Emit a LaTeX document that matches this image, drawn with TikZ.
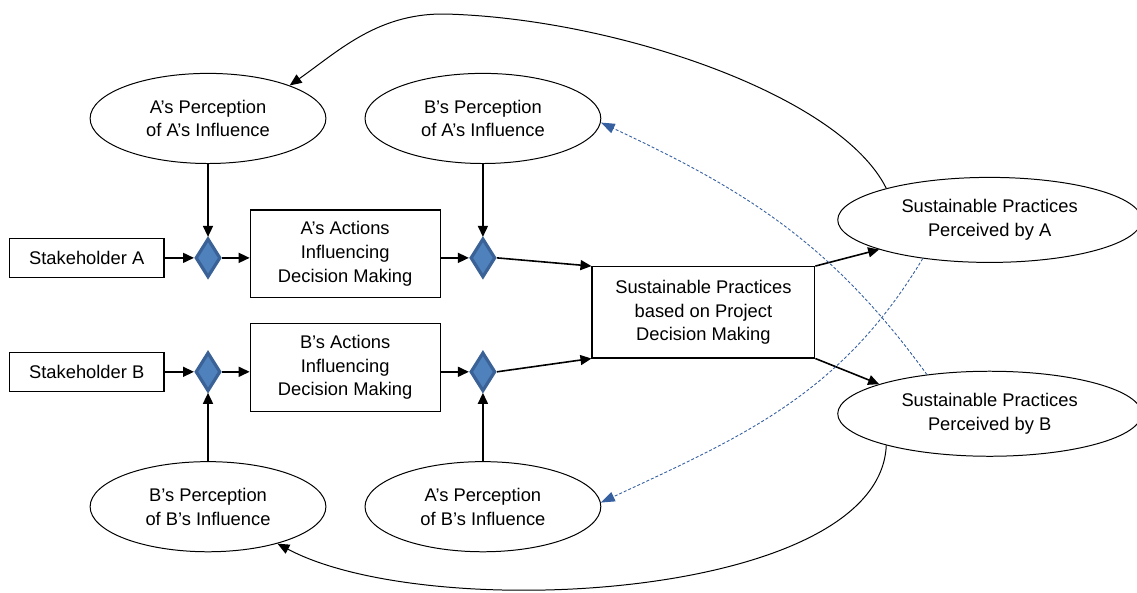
\documentclass[tikz,border=0pt]{standalone}
\usepackage{fontspec}
\setmainfont{Liberation Sans}
\usetikzlibrary{shapes.geometric,arrows.meta}

\definecolor{gatefill}{RGB}{79,129,189}
\definecolor{gateline}{RGB}{58,98,150}
\definecolor{crossblue}{RGB}{54,96,160}

\begin{document}
\begin{tikzpicture}[
	every node/.style={font=\fontsize{9.2}{12}\selectfont, align=center, inner sep=0pt},
	actor/.style={draw, line width=0.6pt, minimum width=2.73cm, minimum height=0.69cm},
	action/.style={draw, line width=0.6pt, minimum width=3.35cm, minimum height=1.55cm},
	outcome/.style={draw, line width=0.6pt, minimum width=3.93cm, minimum height=1.61cm},
	gate/.style={diamond, draw=gateline, fill=gatefill, line width=1.6pt, minimum width=12.5pt, minimum height=19.5pt},
	view/.style={ellipse, draw, line width=0.5pt, minimum width=4.16cm, minimum height=1.59cm},
	seen/.style={ellipse, draw, line width=0.5pt, minimum width=5.36cm, minimum height=1.50cm},
	flow/.style={-{Triangle[length=5.5pt,width=5pt]}, line width=0.8pt},
	loop/.style={-{Triangle[length=6pt,width=5pt]}, line width=0.5pt},
	cross/.style={-{Triangle[length=7pt,width=5pt]}, crossblue, line width=0.45pt, dash pattern=on 1.5pt off 1pt}
	]
			\useasboundingbox (0,0) rectangle (20.06,10.46);

			%stakeholders and their actions
			\node[actor] (stA) at (1.53,5.91) {Stakeholder A};

			\node[actor] (stB) at (1.53,3.90) {Stakeholder B};

			\node[gate] (gA1) at (3.67,5.91) {};

			\node[gate] (gB1) at (3.67,3.90) {};

			\node[action] (actA) at (6.09,5.98) {A’s Actions\\Influencing\\Decision Making};

			\node[action] (actB) at (6.09,3.98) {B’s Actions\\Influencing\\Decision Making};

			\node[gate] (gA2) at (8.52,5.91) {};

			\node[gate] (gB2) at (8.52,3.90) {};

			\node[outcome] (sp) at (12.41,4.95) {Sustainable Practices\\based on Project\\Decision Making};

			%perceptions
			\node[view] (paa) at (3.67,8.37) {A’s Perception\\of A’s Influence};

			\node[view] (bpa) at (8.52,8.37) {B’s Perception\\of A’s Influence};

			\node[view] (bpb) at (3.67,1.52) {B’s Perception\\of B’s Influence};

			\node[view] (apb) at (8.52,1.52) {A’s Perception\\of B’s Influence};

			\node[seen] (spA) at (17.46,6.58) {Sustainable Practices\\Perceived by A};

			\node[seen] (spB) at (17.46,3.16) {Sustainable Practices\\Perceived by B};

			%main flow
			\draw[flow] (stA) -- (gA1);

			\draw[flow] (gA1.east) -- (gA1.east -| actA.west);

			\draw[flow] (actA.east |- gA2) -- (gA2.west);

			\draw[flow] (gA2.east) -- (sp.north west);

			\draw[flow] (stB) -- (gB1);

			\draw[flow] (gB1.east) -- (gB1.east -| actB.west);

			\draw[flow] (actB.east |- gB2) -- (gB2.west);

			\draw[flow] (gB2.east) -- (sp.south west);

			\draw[flow] (sp.north east) -- (spA.195);

			\draw[flow] (sp.south east) -- (spB.165);

			\draw[flow] (paa) -- (gA1);

			\draw[flow] (bpa) -- (gA2);

			\draw[flow] (bpb) -- (gB1);

			\draw[flow] (apb) -- (gB2);

			%feedback
			\draw[loop] (spA.163) .. controls (14.82,8.78) and (10.90,10.11) .. (7.94,10.21)
				.. controls (6.70,10.26) and (6.00,9.58) .. (paa.22);

			\draw[loop] (spB.197) .. controls (15.52,-0.12) and (7.58,-0.56) .. (bpb.-28);

			\draw[cross] (spB.148) to[out=126,in=-25] (bpa.-2);

			\draw[cross] (spA.210) to[out=239,in=25] (apb.2);
\end{tikzpicture}
\end{document}
